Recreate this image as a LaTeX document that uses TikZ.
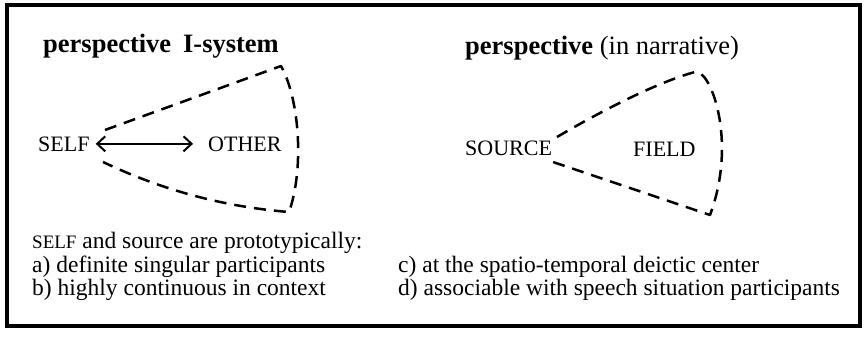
\documentclass[tikz,border=0pt]{standalone}
\usepackage{fontspec}
\setmainfont{Liberation Serif}
\usetikzlibrary{arrows.meta}
\begin{document}
\begin{tikzpicture}[x=1pt,y=-1pt,
  titletext/.style={anchor=base west, inner sep=0pt, font=\fontsize{26.5}{30}\selectfont},
  lbl/.style={anchor=base west, inner sep=0pt, font=\fontsize{22}{24}\selectfont},
  bodytext/.style={anchor=base west, inner sep=0pt, font=\fontsize{23.5}{24}\selectfont},
  region/.style={dash pattern=on 12pt off 8pt, line width=2.5pt, line join=round},
  frame/.style={line width=4pt},
  arr/.style={{Straight Barb[length=8pt,width=15pt]}-{Straight Barb[length=8pt,width=15pt]}, line width=2pt}]
\useasboundingbox (0,0) rectangle (864,338);
\draw[frame] (7,5) rectangle (860,326);

% titles
\node[titletext] (t1) at (43,52) {\textbf{perspective}\hspace{0.45em}\textbf{I-system}};
\node[titletext] (t2) at (465,54) {\textbf{perspective} (in narrative)};

% left figure
\node[lbl] (self) at (38,151) {SELF};
\node[lbl] (other) at (208,151) {OTHER};
\draw[arr, shorten <=6pt, shorten >=15pt] (self.east) -- (other.west);
\draw[region] (105,130) -- (281,66) .. controls (300,100) and (304,170) .. (289,212)
  .. controls (226,207) and (164,191) .. (103,162);

% right figure
\node[lbl] (source) at (465,155) {SOURCE};
\node[lbl] (field) at (633,156) {FIELD};
\draw[region] (557,137) .. controls (615,103) and (665,80) .. (695,72)
  .. controls (710,68) and (738,140) .. (710,215) -- (553,162);

% text
\node[bodytext] (l1) at (32,248) {{\fontsize{19}{20}\selectfont SELF} and source are prototypically:};
\node[bodytext] (l2) at (32,272) {a) definite singular participants};
\node[bodytext] (l3) at (32,295) {b) highly continuous in context};
\node[bodytext] (r2) at (398,272) {c) at the spatio-temporal deictic center};
\node[bodytext] (r3) at (398,295) {d) associable with speech situation participants};
\end{tikzpicture}
\end{document}
